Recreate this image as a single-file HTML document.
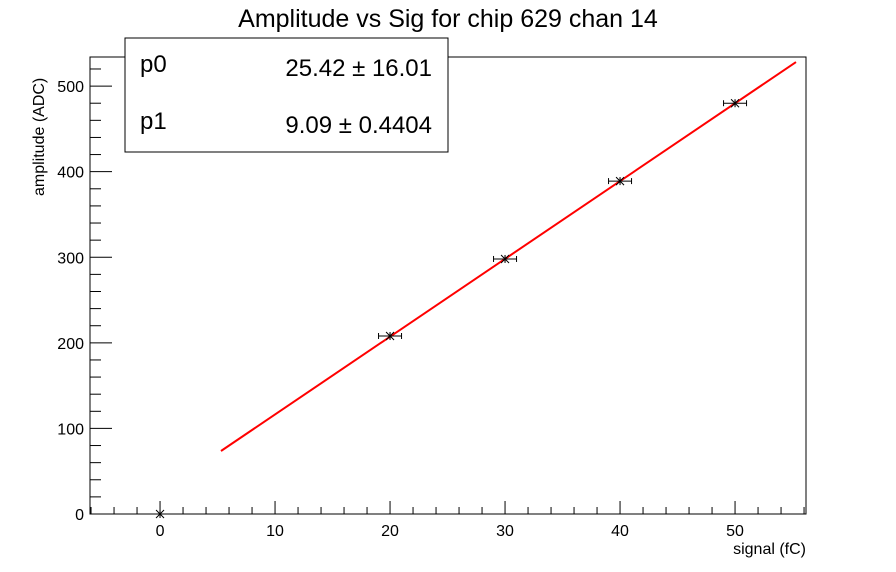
<!DOCTYPE html>
<html><head><meta charset="utf-8"><style>
body{margin:0;background:#fff;}
svg{display:block;font-family:"Liberation Sans",sans-serif;}
</style></head><body>
<svg id="c" width="896" height="572">
<rect width="896" height="572" fill="#fff"/>
<text x="448" y="27" font-size="25" text-anchor="middle">Amplitude vs Sig for chip 629 chan 14</text>
<g id="axes"></g>
<g id="marks"></g>
<g>
<rect x="125" y="38" width="323" height="114" fill="#fff" stroke="#000" stroke-width="1"/>
<text x="140" y="72" font-size="24">p0</text>
<text x="432" y="76" font-size="24" text-anchor="end">25.42 ± 16.01</text>
<text x="140" y="129" font-size="24">p1</text>
<text x="432" y="133" font-size="24" text-anchor="end">9.09 ± 0.4404</text>
</g>
<text x="806" y="554" font-size="16" text-anchor="end">signal (fC)</text>
<text transform="translate(44,196) rotate(-90)" font-size="16">amplitude (ADC)</text>
</svg>
<script>
const xs=[0,20,30,40,50];
const ys=[0,208,298,389,480];
const xErr=[0,1,1,1,1];
const yErr=[0,4,4,4,4];
const fitP0=25.42, fitP1=9.09;
const fitRange=[5.3,55.3];
const xTicks=[0,10,20,30,40,50];
const yTicks=[0,100,200,300,400,500];
const NS="http://www.w3.org/2000/svg";
const X0=90,X1=806,Y0=514,Y1=57;
const xmin=-6.09,xmax=56.17,ymin=0,ymax=534;
const sx=v=>X0+(v-xmin)/(xmax-xmin)*(X1-X0);
const sy=v=>Y0-(v-ymin)/(ymax-ymin)*(Y0-Y1);
function mk(t,a,p){const e=document.createElementNS(NS,t);for(const k in a)e.setAttribute(k,a[k]);p.appendChild(e);return e;}
const ax=document.getElementById('axes'),mg=document.getElementById('marks');
const frame=mk('rect',{x:X0,y:Y1,width:X1-X0,height:Y0-Y1,fill:'none',stroke:'#000','stroke-width':1},ax);


for(let v=-6;v<=56;v+=2){if(sx(v)<X0)continue;const maj=v%10===0;
const l=mk('line',{x1:sx(v),x2:sx(v),y1:Y0,y2:Y0-(maj?13:7),stroke:'#000'},ax);

}
xTicks.forEach(v=>{const t=mk('text',{x:sx(v),y:Y0+22,'font-size':16,'text-anchor':'middle'},ax);t.textContent=v;

});
for(let v=0;v<=530;v+=20){const maj=v%100===0;
const l=mk('line',{x1:X0,x2:X0+(maj?22:11),y1:sy(v),y2:sy(v),stroke:'#000'},ax);

}
yTicks.forEach(v=>{const t=mk('text',{x:X0-6,y:sy(v)+6,'font-size':16,'text-anchor':'end'},ax);t.textContent=v;

});
const fl=mk('line',{x1:sx(fitRange[0]),y1:sy(fitP0+fitP1*fitRange[0]),x2:sx(fitRange[1]),y2:sy(fitP0+fitP1*fitRange[1]),stroke:'#f00','stroke-width':2},mg);


xs.forEach((x,i)=>{const g=mk('g',{stroke:'#000','stroke-width':1},mg);


const cx=sx(x),cy=sy(ys[i]);
if(xErr[i]){const a=sx(x-xErr[i]),b=sx(x+xErr[i]);
mk('line',{x1:a,x2:b,y1:cy,y2:cy},g);mk('line',{x1:a,x2:a,y1:cy-3,y2:cy+3},g);mk('line',{x1:b,x2:b,y1:cy-3,y2:cy+3},g);}
if(yErr[i]){mk('line',{x1:cx,x2:cx,y1:sy(ys[i]+yErr[i]),y2:sy(ys[i]-yErr[i])},g);}
mk('line',{x1:cx-4,x2:cx+4,y1:cy-4,y2:cy+4},g);mk('line',{x1:cx-4,x2:cx+4,y1:cy+4,y2:cy-4},g);mk('line',{x1:cx,x2:cx,y1:cy-4,y2:cy+4},g);});
</script>
</body></html>
